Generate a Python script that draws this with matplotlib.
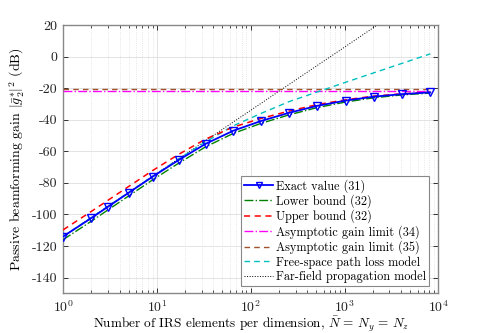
import matplotlib
matplotlib.use("Agg")
import matplotlib.pyplot as plt
import numpy as np

plt.rcParams['font.family'] = 'serif'
plt.rcParams['font.serif'] = ['cmr10', 'DejaVu Serif']
plt.rcParams['mathtext.fontset'] = 'cm'
plt.rcParams['axes.unicode_minus'] = False
plt.rcParams['axes.formatter.use_mathtext'] = True

# Number of IRS elements per dimension
n_elements = [1, 2, 3, 5, 9, 17, 33, 65, 129, 257, 513, 1025, 2049, 4097, 8193]

exact_value = [-114.0, -102.3, -95.2, -86.3, -76.1, -65.6, -55.3, -47.0, -40.8,
               -35.6, -31.2, -27.9, -25.4, -23.8, -22.7]
lower_bound = [-116.0, -104.3, -97.2, -88.3, -78.1, -67.6, -57.2, -48.7, -42.3,
               -36.9, -32.3, -28.8, -26.1, -24.3, -23.1]
upper_bound = [-109.8, -98.1, -91.1, -82.3, -72.2, -62.0, -52.3, -44.7, -39.2,
               -34.5, -30.4, -27.4, -25.05, -23.6, -22.6]
asym_limit_34 = -21.8
asym_limit_35 = -20.6
free_space = [-114.0, -102.0, -94.9, -86.1, -75.9, -65.0, -54.0, -43.9, -36.0,
              -28.5, -22.4, -16.3, -10.3, -4.3, 1.7]
far_field = [-114.0, -102.0, -94.9, -86.0, -75.8, -64.8, -53.3, -41.5, -29.6,
             -17.6, -5.6, 6.4, 18.5, 30.5, 42.5]

x_ticks = [1, 10, 100, 1000, 10000]
x_tick_labels = [r'$10^0$', r'$10^1$', r'$10^2$', r'$10^3$', r'$10^4$']
y_ticks = [-140, -120, -100, -80, -60, -40, -20, 0, 20]
y_tick_labels = ['-140', '-120', '-100', '-80', '-60', '-40', '-20', '0', '20']

fig = plt.figure(figsize=(4.85, 3.33), dpi=100)
ax = fig.add_axes([0.130, 0.119, 0.774, 0.806])

ax.plot(n_elements, exact_value, color='#0000ff', lw=1.3, marker='v', ms=5.5,
        mfc='none', mec='#0000ff', mew=1.0, label='Exact value (31)', zorder=5)
ax.plot(n_elements, lower_bound, color='#008000', lw=1.0, ls='-.', label='Lower bound (32)', zorder=4)
ax.plot(n_elements, upper_bound, color='#ff0000', lw=1.1, ls=(0, (4, 3)), label='Upper bound (32)', zorder=4)
ax.plot([n_elements[0], n_elements[-1]], [asym_limit_34, asym_limit_34], color='#ff00ff', lw=1.0,
        ls='-.', label='Asymptotic gain limit (34)', zorder=3)
ax.plot([n_elements[0], n_elements[-1]], [asym_limit_35, asym_limit_35], color='#a0522d', lw=1.0,
        ls=(0, (4, 3)), label='Asymptotic gain limit (35)', zorder=3)
ax.plot(n_elements, free_space, color='#00bfbf', lw=1.0, ls=(0, (4, 3)),
        label='Free-space path loss model', zorder=3)
ax.plot(n_elements, far_field, color='#000000', lw=0.7, ls=':', label='Far-field propagation model', zorder=2)

ax.set_xscale('log')
ax.set_xlim(1, 1e4)
ax.set_ylim(-150, 20)
ax.set_xticks(x_ticks)
ax.set_xticklabels(x_tick_labels)
ax.set_yticks(y_ticks)
ax.set_yticklabels(y_tick_labels)

ax.grid(True, which='major', color='#dedede', lw=0.6, ls='-')
ax.grid(True, which='minor', axis='x', color='#dedede', lw=0.6, ls=':')
ax.set_axisbelow(True)

ax.tick_params(which='both', direction='in', top=True, right=True, colors='#333333',
               labelsize=10, labelcolor='#222222')
ax.tick_params(which='major', length=3.5, width=0.7, pad=4)
ax.tick_params(which='minor', length=2, width=0.6)
for s in ax.spines.values():
    s.set_color('#888888')
    s.set_linewidth(1.0)

ax.set_xlabel(r'Number of IRS elements per dimension, $\bar{N}\,=\,N_y\,=\,N_z$', fontsize=9.5, labelpad=0)
ax.set_ylabel(r'Passive beamforming gain $|\bar{g}_2^{*}|^2$ (dB)', fontsize=10, labelpad=4)

leg = ax.legend(loc='lower right', bbox_to_anchor=(0.975, 0.027), borderaxespad=0,
                fontsize=8.8, fancybox=False, framealpha=1, edgecolor='#888888',
                handlelength=2.4, labelspacing=0.14, handletextpad=0.2, borderpad=0.25,
                markerscale=0.8)
leg.get_frame().set_linewidth(0.8)

fig.savefig('out.png', dpi=100)
